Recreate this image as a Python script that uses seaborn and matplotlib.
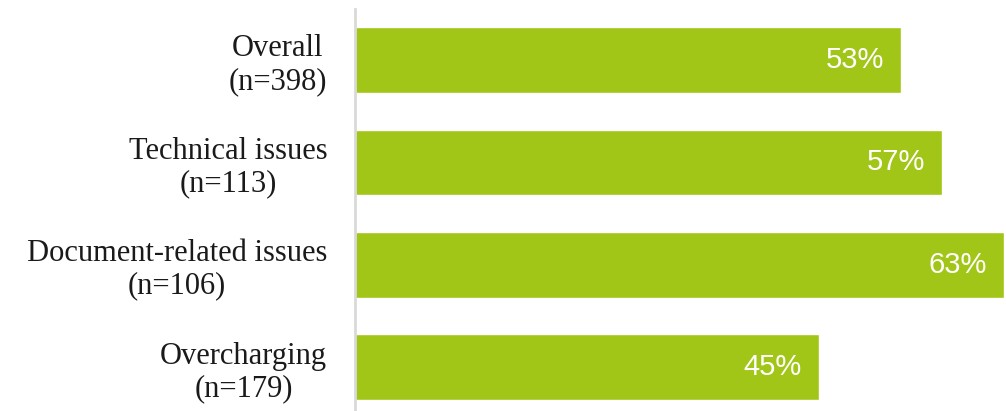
import seaborn as sns
import matplotlib.pyplot as plt
import pandas as pd

# survey groups and share of respondents
groups = ["Overall\n(n=398)", "Technical issues\n(n=113)",
          "Document-related issues\n(n=106)", "Overcharging\n(n=179)"]
shares = [53, 57, 63, 45]

df = pd.DataFrame({"group": groups, "share": shares})

sns.set_style("white")
fig = plt.figure(figsize=(10.06, 4.11), dpi=100)
ax = fig.add_axes([355 / 1006, -0.018, 651 / 1006, 0.9966])

sns.barplot(data=df, y="group", x="share", orient="h", color="#A2C617",
            width=0.64, saturation=1, ax=ax)

# value labels inside the bar ends
for i, v in enumerate(shares):
    ax.annotate(f"{v}%", xy=(v, i), xytext=(-12, 0), textcoords="offset points",
                ha="right", va="center", color="white", fontsize=21,
                family="Liberation Sans")

ax.set_xlim(0, 63.2)
ax.set_xlabel("")
ax.set_ylabel("")
ax.set_xticks([])
for side in ["top", "right", "bottom"]:
    ax.spines[side].set_visible(False)
ax.spines["left"].set_color("#D9D9D9")
ax.spines["left"].set_linewidth(2)
ax.tick_params(axis="y", length=0, pad=20)
for lab in ax.get_yticklabels():
    lab.set_fontfamily("Liberation Serif")
    lab.set_fontsize(22)
    lab.set_multialignment("center")
    lab.set_linespacing(1.15)
    lab.set_color("#1a1a1a")

fig.savefig("out.png", dpi=100)
